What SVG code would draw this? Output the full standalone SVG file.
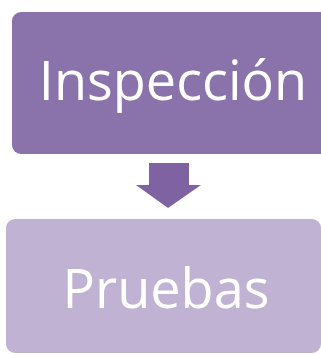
<svg xmlns="http://www.w3.org/2000/svg" width="321" height="354" viewBox="0 0 321 354">
<style>
.lbl{font-family:"Open Sans","Noto Sans",sans-serif;font-size:54px;fill:#ffffff;text-anchor:middle}
</style>
<rect width="321" height="354" fill="#ffffff"/>
<g id="inspeccion">
<rect x="12" y="12" width="330" height="142" rx="9" fill="#8A73AB"/>
<text class="lbl" x="173" y="100">Inspección</text>
</g>
<g id="connectors">
<polygon points="149,163 189,163 189,185 201,185 168,208 136,185 149,185" fill="#7E62A1"/>
</g>
<g id="pruebas">
<rect x="6" y="219" width="315" height="134" rx="9" fill="#BFB2D2"/>
<text class="lbl" x="166" y="308">Pruebas</text>
</g>
</svg>
